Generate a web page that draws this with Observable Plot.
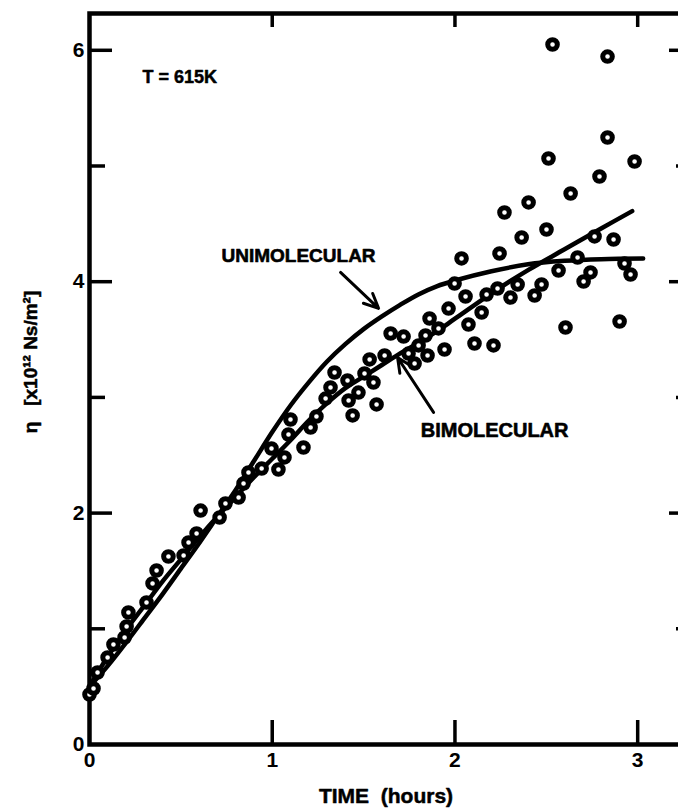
<!DOCTYPE html>
<html><head><meta charset="utf-8">
<script src="https://cdn.jsdelivr.net/npm/d3@7"></script>
<script src="https://cdn.jsdelivr.net/npm/@observablehq/plot@0.6"></script>
<style>
html,body{margin:0;padding:0;background:#fff;overflow:hidden;}
#chart{width:678px;height:810px;overflow:hidden;}
#chart svg{max-width:none !important;}
</style></head><body><div id="chart"></div>
<script>
// measured points: time (hours), viscosity eta (x10^12 Ns/m^2)
const time = [0.0,0.022,0.044,0.099,0.131,0.192,0.203,0.213,0.312,0.345,0.367,0.432,0.515,0.542,0.586,0.608,0.712,0.744,0.816,0.843,0.870,0.942,0.996,1.034,1.067,1.089,1.100,1.171,1.210,1.242,1.292,1.319,1.341,1.412,1.418,1.440,1.472,1.505,1.533,1.554,1.571,1.615,1.648,1.719,1.746,1.779,1.801,1.850,1.839,1.861,1.910,1.943,1.965,1.998,2.036,2.058,2.074,2.107,2.146,2.173,2.211,2.233,2.244,2.271,2.304,2.343,2.365,2.403,2.436,2.474,2.501,2.512,2.534,2.567,2.605,2.633,2.671,2.704,2.742,2.764,2.791,2.835,2.835,2.868,2.901,2.928,2.961,2.983];
const eta = [0.432,0.484,0.622,0.752,0.864,0.925,1.020,1.141,1.227,1.392,1.504,1.625,1.634,1.746,1.824,2.022,1.962,2.083,2.135,2.256,2.351,2.385,2.558,2.377,2.481,2.679,2.809,2.567,2.740,2.835,2.990,3.086,3.215,3.146,2.973,2.844,3.042,3.207,3.328,3.129,2.939,3.362,3.552,3.526,3.379,3.293,3.449,3.362,3.535,3.682,3.596,3.414,3.768,3.984,4.201,3.872,3.630,3.466,3.734,3.889,3.449,3.941,4.244,4.598,3.863,3.976,4.382,4.685,3.881,3.976,4.451,5.065,6.050,4.097,3.604,4.762,4.209,4.002,4.080,4.391,4.909,5.946,5.246,4.365,3.656,4.157,4.062,5.039];

// model curves
const uniTime = [0,0.1,0.2,0.3,0.4,0.5,0.6,0.7,0.8,0.9,1.0,1.1,1.2,1.3,1.4,1.5,1.6,1.7,1.8,1.9,2.0,2.2,2.4,2.6,2.8,3.03];
const uniEta  = [0.50,0.68,0.88,1.09,1.30,1.52,1.74,1.97,2.20,2.45,2.70,2.93,3.13,3.31,3.46,3.59,3.70,3.80,3.89,3.96,4.01,4.09,4.15,4.18,4.195,4.20];
const biTime = [0,0.1,0.2,0.3,0.4,0.5,0.6,0.7,0.8,0.9,1.0,1.1,1.2,1.3,1.4,1.5,1.6,1.7,1.8,1.9,2.0,2.2,2.4,2.6,2.8,2.97];
const biEta  = [0.50,0.76,0.99,1.20,1.41,1.60,1.79,1.97,2.14,2.31,2.47,2.63,2.80,2.95,3.08,3.18,3.28,3.38,3.47,3.57,3.68,3.90,4.10,4.28,4.46,4.61];

// axes
const xTickLabels = [0,1,2,3];
const yTickLabels = [0,2,4,6];
const xTicks = [1,2,3];
const yMajor = [2,4,6];
const yMinor = [1,3,5];

// annotations
const curveNames = ["UNIMOLECULAR","BIMOLECULAR"];
const nameX = [1.144,2.217];
const nameY = [4.22,2.714];
const nameSize = [19,20];
const arrowX1 = [1.374,1.883];
const arrowY1 = [4.08,2.87];
const arrowX2 = [1.582,1.686];
const arrowY2 = [3.77,3.345];
const infoText = ["T = 615K"];
const infoX = [0.29];
const infoY = [5.77];
const xTitle = "TIME  (hours)";
const yTitle = "η   [x10¹² Ns/m²]";

const pts = time.map((t,i)=>({t, e: eta[i]}));
const uni = uniTime.map((t,i)=>({t, e: uniEta[i]}));
const bi = biTime.map((t,i)=>({t, e: biEta[i]}));
const names = curveNames.map((s,i)=>({s, x:nameX[i], y:nameY[i], f:nameSize[i]}));
const arrows = arrowX1.map((x,i)=>({x1:x, y1:arrowY1[i], x2:arrowX2[i], y2:arrowY2[i]}));
const info = infoText.map((s,i)=>({s, x:infoX[i], y:infoY[i]}));

const W = 700, ML = 89, MR = 8, MT = 13, MB = 66, H = 810;
const fw = W - ML - MR, fh = H - MT - MB;

const chart = Plot.plot({
  width: W, height: H,
  marginLeft: ML, marginRight: MR, marginTop: MT, marginBottom: MB,
  style: {fontFamily: "'Liberation Sans', Arial, sans-serif", fontWeight: "bold", color: "black", background: "white", maxWidth: "none"},
  x: {domain: [0, 3.3]},
  y: {domain: [0, 6.318]},
  marks: [
    Plot.frame({stroke: "black", strokeWidth: 4.5}),
    // inward ticks
    Plot.tickY(yMajor, {y: d=>d, stroke:"black", strokeWidth:3.5, insetRight: fw-23}),
    Plot.tickY(yMinor, {y: d=>d, stroke:"black", strokeWidth:3.5, insetRight: fw-16}),
    Plot.tickY(yMajor, {y: d=>d, stroke:"black", strokeWidth:3.5, insetLeft: fw-23}),
    Plot.tickY(yMinor, {y: d=>d, stroke:"black", strokeWidth:3.5, insetLeft: fw-16}),
    Plot.tickX(xTicks, {x: d=>d, stroke:"black", strokeWidth:3.5, insetTop: fh-24}),
    Plot.tickX(xTicks, {x: d=>d, stroke:"black", strokeWidth:3.5, insetBottom: fh-14}),
    Plot.axisX(xTickLabels, {tickSize: 0, tickPadding: 8, fontSize: 21, label: null, tickFormat: d=>String(d)}),
    Plot.axisY(yTickLabels, {tickSize: 0, tickPadding: 5, fontSize: 21, label: null, tickFormat: d=>String(d)}),
    // curves
    Plot.line(uni, {x:"t", y:"e", stroke:"black", strokeWidth:4.5, curve:"catmull-rom"}),
    Plot.line(bi, {x:"t", y:"e", stroke:"black", strokeWidth:4.5, curve:"catmull-rom"}),
    // annotations
    Plot.arrow(arrows, {x1:"x1", y1:"y1", x2:"x2", y2:"y2", stroke:"black", strokeWidth:3, headLength:8, headAngle:50}),
    Plot.text(names, {x:"x", y:"y", text:"s", fontSize:"f", fill:"black", stroke:"black", strokeWidth:0.6}),
    Plot.text(info, {x:"x", y:"y", text:"s", fontSize:18, textAnchor:"start", fill:"black", stroke:"black", strokeWidth:0.5}),
    // data points
    Plot.dot(pts, {x:"t", y:"e", r:4.8, stroke:"black", strokeWidth:5, fill:"white"}),
    // axis titles
    Plot.text([xTitle], {frameAnchor:"bottom", textAnchor:"middle", lineAnchor:"middle", dx:-5, dy:52, fontSize:21, fill:"black", stroke:"black", strokeWidth:0.5}),
    Plot.text([yTitle], {frameAnchor:"left", textAnchor:"middle", lineAnchor:"middle", rotate:-90, dx:-59, dy:-17, fontSize:19, fill:"black", stroke:"black", strokeWidth:0.5})
  ]
});
document.getElementById("chart").appendChild(chart);
</script>
</body></html>
